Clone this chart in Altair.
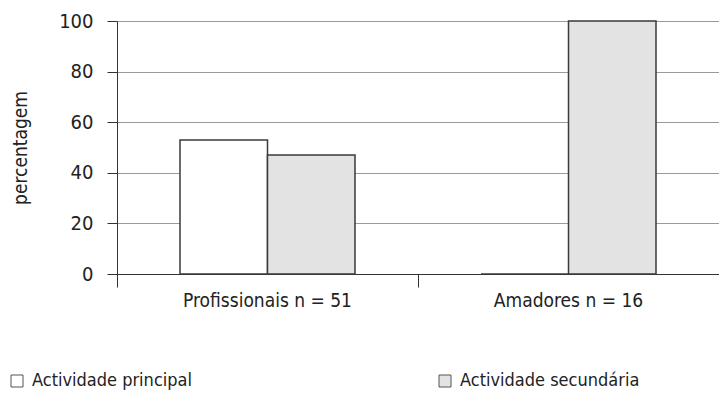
import altair as alt
import pandas as pd

groups = ["Profissionais n = 51", "Profissionais n = 51", "Amadores n = 16", "Amadores n = 16"]
series = ["Actividade principal", "Actividade secundária", "Actividade principal", "Actividade secundária"]
values = [53, 47, 0, 100]
group_order = ["Profissionais n = 51", "Amadores n = 16"]
series_order = ["Actividade principal", "Actividade secundária"]
series_colors = ["#ffffff", "#e3e3e3"]
y_ticks = [0, 20, 40, 60, 80, 100]

df = pd.DataFrame({"grupo": groups, "serie": series, "valor": values})

FONT = "DejaVu Sans Condensed"

chart = alt.Chart(df).mark_bar(stroke="#3a3a3a", strokeWidth=1.5).encode(
    x=alt.X("grupo:N", sort=group_order, title=None,
            scale=alt.Scale(paddingInner=0, paddingOuter=0),
            axis=alt.Axis(labelAngle=0, bandPosition=0, tickSize=13, tickColor="#333",
                          domainColor="#333", labelFontSize=19, labelColor="#222",
                          labelPadding=4, labelFont=FONT, grid=False)),
    xOffset=alt.XOffset("serie:N", sort=series_order,
                        scale=alt.Scale(paddingInner=0, paddingOuter=0.72)),
    y=alt.Y("valor:Q", title="percentagem",
            scale=alt.Scale(domain=[0, 100]),
            axis=alt.Axis(values=y_ticks, tickSize=10, tickColor="#333", domainColor="#333",
                          gridColor="#9a9a9a", gridWidth=1, labelFontSize=20, labelColor="#222",
                          labelPadding=14, labelFont=FONT, titleFont=FONT, titleFontSize=19,
                          titleFontWeight="normal", titleColor="#222", titlePadding=28)),
    fill=alt.Fill("serie:N", sort=series_order,
                  scale=alt.Scale(domain=series_order, range=series_colors),
                  legend=alt.Legend(title=None, orient="none", legendX=-109, legendY=351,
                                    direction="horizontal", columns=2, columnPadding=244,
                                    symbolType="square", symbolSize=144,
                                    symbolStrokeColor="#555", symbolStrokeWidth=1,
                                    labelFontSize=18, labelFont=FONT, labelColor="#222",
                                    labelOffset=6, labelLimit=400)),
).properties(
    width=602, height=253,
    padding={"left": 0, "top": 3, "right": 0, "bottom": 0},
).configure_view(stroke=None)

chart.save("out.html", embed_options={"renderer": "svg", "actions": False})
